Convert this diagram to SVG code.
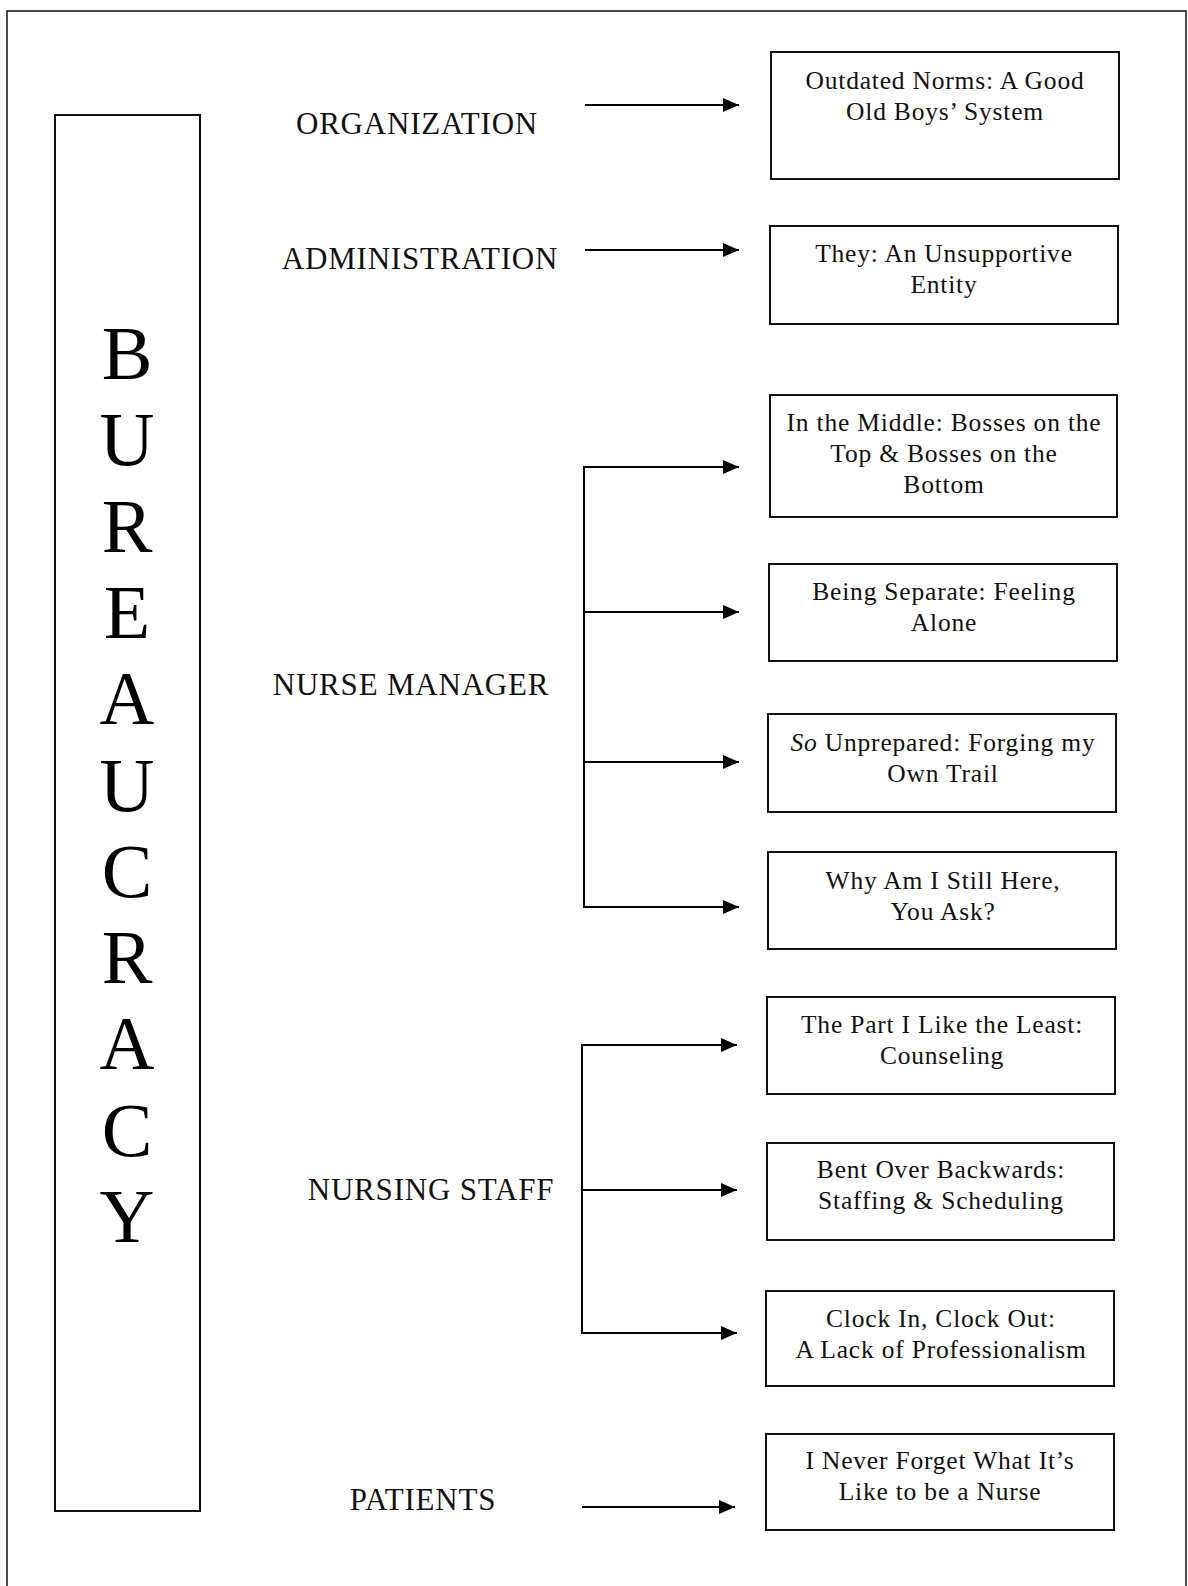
<svg xmlns="http://www.w3.org/2000/svg" width="1188" height="1586" viewBox="0 0 1188 1586">
<defs>
<marker id="ah" markerWidth="16" markerHeight="14" refX="16" refY="7" orient="auto" markerUnits="userSpaceOnUse">
<path d="M0,0 L16,7 L0,14 Z" fill="#000"/>
</marker>
<style>
.frame{fill:none;stroke:#111;stroke-width:1.5}
.box{fill:#fff;stroke:#111;stroke-width:2}
.ln{fill:none;stroke:#000;stroke-width:2}
.arr{fill:none;stroke:#000;stroke-width:2;marker-end:url(#ah)}
.lbl{font-family:"Liberation Serif","Times New Roman",serif;font-size:31px;fill:#111;text-anchor:middle;letter-spacing:0.8px}
.bt{font-family:"Liberation Serif","Times New Roman",serif;font-size:25.5px;fill:#111;text-anchor:middle;letter-spacing:0.8px}
.big{font-family:"Liberation Serif","Times New Roman",serif;font-size:76px;fill:#000;text-anchor:middle}
</style>
</defs>
<rect width="1188" height="1586" fill="#fff"/>
<path class="frame" d="M7,1586 L7,11 L1186,11 L1186,1586"/>

<g id="bureaucracy">
<rect class="box" x="55" y="115" width="145" height="1396"/>
<text class="big" x="127" y="379">B</text>
<text class="big" x="127" y="465">U</text>
<text class="big" x="127" y="552">R</text>
<text class="big" x="127" y="638">E</text>
<text class="big" x="127" y="724">A</text>
<text class="big" x="127" y="811">U</text>
<text class="big" x="127" y="897">C</text>
<text class="big" x="127" y="983">R</text>
<text class="big" x="127" y="1069">A</text>
<text class="big" x="127" y="1156">C</text>
<text class="big" x="127" y="1242">Y</text>
</g>

<g id="label-organization"><text class="lbl" x="417" y="134">ORGANIZATION</text></g>
<g id="label-administration"><text class="lbl" x="420" y="269">ADMINISTRATION</text></g>
<g id="label-nurse-manager"><text class="lbl" x="411" y="695">NURSE MANAGER</text></g>
<g id="label-nursing-staff"><text class="lbl" x="431" y="1200">NURSING STAFF</text></g>
<g id="label-patients"><text class="lbl" x="423" y="1510">PATIENTS</text></g>

<g id="connectors">
<line class="arr" x1="585" y1="105" x2="739" y2="105"/>
<line class="arr" x1="585" y1="250" x2="739" y2="250"/>
<line class="ln" x1="584" y1="467" x2="584" y2="907"/>
<line class="arr" x1="583" y1="467" x2="739" y2="467"/>
<line class="arr" x1="583" y1="612" x2="739" y2="612"/>
<line class="arr" x1="583" y1="762" x2="739" y2="762"/>
<line class="arr" x1="583" y1="907" x2="739" y2="907"/>
<line class="ln" x1="582" y1="1045" x2="582" y2="1333"/>
<line class="arr" x1="581" y1="1045" x2="737" y2="1045"/>
<line class="arr" x1="581" y1="1190" x2="737" y2="1190"/>
<line class="arr" x1="581" y1="1333" x2="737" y2="1333"/>
<line class="arr" x1="582" y1="1507" x2="735" y2="1507"/>
</g>

<g id="box1"><rect class="box" x="771" y="52" width="348" height="127"/>
<text class="bt" x="945" y="89">Outdated Norms: A Good</text>
<text class="bt" x="945" y="120">Old Boys’ System</text></g>

<g id="box2"><rect class="box" x="770" y="226" width="348" height="98"/>
<text class="bt" x="944" y="262">They: An Unsupportive</text>
<text class="bt" x="944" y="293">Entity</text></g>

<g id="box3"><rect class="box" x="770" y="395" width="347" height="122"/>
<text class="bt" x="944" y="431">In the Middle: Bosses on the</text>
<text class="bt" x="944" y="462">Top &amp; Bosses on the</text>
<text class="bt" x="944" y="493">Bottom</text></g>

<g id="box4"><rect class="box" x="769" y="564" width="348" height="97"/>
<text class="bt" x="944" y="600">Being Separate: Feeling</text>
<text class="bt" x="944" y="631">Alone</text></g>

<g id="box5"><rect class="box" x="768" y="714" width="348" height="98"/>
<text class="bt" x="943" y="751"><tspan font-style="italic">So</tspan> Unprepared: Forging my</text>
<text class="bt" x="943" y="782">Own Trail</text></g>

<g id="box6"><rect class="box" x="768" y="852" width="348" height="97"/>
<text class="bt" x="943" y="889">Why Am I Still Here,</text>
<text class="bt" x="943" y="920">You Ask?</text></g>

<g id="box7"><rect class="box" x="767" y="997" width="348" height="97"/>
<text class="bt" x="942" y="1033">The Part I Like the Least:</text>
<text class="bt" x="942" y="1064">Counseling</text></g>

<g id="box8"><rect class="box" x="767" y="1143" width="347" height="97"/>
<text class="bt" x="941" y="1178">Bent Over Backwards:</text>
<text class="bt" x="941" y="1209">Staffing &amp; Scheduling</text></g>

<g id="box9"><rect class="box" x="766" y="1291" width="348" height="95"/>
<text class="bt" x="941" y="1327">Clock In, Clock Out:</text>
<text class="bt" x="941" y="1358">A Lack of Professionalism</text></g>

<g id="box10"><rect class="box" x="766" y="1434" width="348" height="96"/>
<text class="bt" x="940" y="1469">I Never Forget What It’s</text>
<text class="bt" x="940" y="1500">Like to be a Nurse</text></g>
</svg>
